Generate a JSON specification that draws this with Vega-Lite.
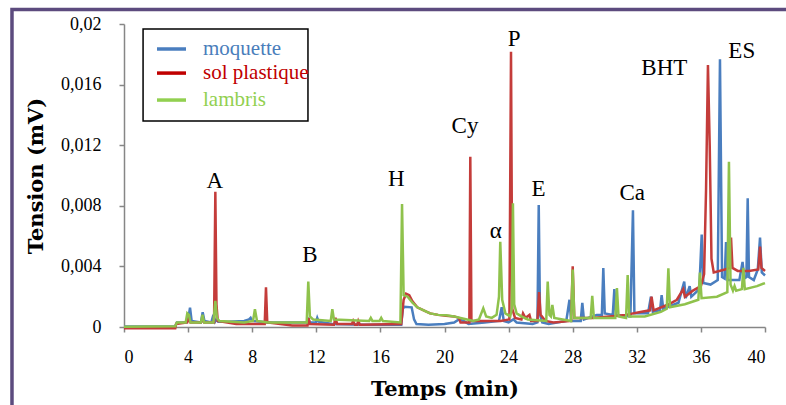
{
  "$schema": "https://vega.github.io/schema/vega-lite/v6.json",
  "width": 641,
  "height": 303,
  "autosize": {"type": "none"},
  "padding": {"left": 124, "top": 24, "right": 21, "bottom": 78},
  "background": "white",
  "config": {"view": {"stroke": null}},
  "datasets": {
    "chroma": [
      {"serie":"moquette","temps":0,"tension":0.00003},
      {"serie":"moquette","temps":3.2,"tension":0.00005},
      {"serie":"moquette","temps":3.3,"tension":0.0003},
      {"serie":"moquette","temps":3.9,"tension":0.0003},
      {"serie":"moquette","temps":4.02,"tension":0.0006},
      {"serie":"moquette","temps":4.12,"tension":0.00128},
      {"serie":"moquette","temps":4.22,"tension":0.0004},
      {"serie":"moquette","temps":4.8,"tension":0.0003},
      {"serie":"moquette","temps":4.91,"tension":0.00097},
      {"serie":"moquette","temps":5.02,"tension":0.0004},
      {"serie":"moquette","temps":5.45,"tension":0.0003},
      {"serie":"moquette","temps":5.58,"tension":0.0008},
      {"serie":"moquette","temps":5.68,"tension":0.00035},
      {"serie":"moquette","temps":5.78,"tension":0.0005},
      {"serie":"moquette","temps":5.88,"tension":0.00035},
      {"serie":"moquette","temps":6.5,"tension":0.00035},
      {"serie":"moquette","temps":7.5,"tension":0.0004},
      {"serie":"moquette","temps":7.8,"tension":0.0005},
      {"serie":"moquette","temps":7.9,"tension":0.0006},
      {"serie":"moquette","temps":8.0,"tension":0.0004},
      {"serie":"moquette","temps":9.0,"tension":0.0003},
      {"serie":"moquette","temps":11.4,"tension":0.0003},
      {"serie":"moquette","temps":11.5,"tension":0.0005},
      {"serie":"moquette","temps":11.6,"tension":0.0003},
      {"serie":"moquette","temps":11.98,"tension":0.0003},
      {"serie":"moquette","temps":12.06,"tension":0.0006},
      {"serie":"moquette","temps":12.15,"tension":0.00035},
      {"serie":"moquette","temps":13,"tension":0.0002},
      {"serie":"moquette","temps":15,"tension":0.00015},
      {"serie":"moquette","temps":17.3,"tension":0.00015},
      {"serie":"moquette","temps":17.4,"tension":0.0012},
      {"serie":"moquette","temps":17.5,"tension":0.00134},
      {"serie":"moquette","temps":17.95,"tension":0.0013},
      {"serie":"moquette","temps":18.1,"tension":0.0005},
      {"serie":"moquette","temps":18.25,"tension":0.0002},
      {"serie":"moquette","temps":19,"tension":0.00015},
      {"serie":"moquette","temps":20,"tension":0.0002},
      {"serie":"moquette","temps":20.6,"tension":0.0003},
      {"serie":"moquette","temps":20.9,"tension":0.0005},
      {"serie":"moquette","temps":21.2,"tension":0.0004},
      {"serie":"moquette","temps":21.5,"tension":0.0002},
      {"serie":"moquette","temps":22.5,"tension":0.0003},
      {"serie":"moquette","temps":23.4,"tension":0.0004},
      {"serie":"moquette","temps":23.57,"tension":0.0013},
      {"serie":"moquette","temps":23.7,"tension":0.0004},
      {"serie":"moquette","temps":24.0,"tension":0.0003},
      {"serie":"moquette","temps":24.3,"tension":0.0005},
      {"serie":"moquette","temps":24.5,"tension":0.0003},
      {"serie":"moquette","temps":25.5,"tension":0.0002},
      {"serie":"moquette","temps":25.8,"tension":0.0003},
      {"serie":"moquette","temps":25.88,"tension":0.00805},
      {"serie":"moquette","temps":25.96,"tension":0.0008},
      {"serie":"moquette","temps":26.1,"tension":0.0003},
      {"serie":"moquette","temps":26.5,"tension":0.0002},
      {"serie":"moquette","temps":27.6,"tension":0.0004},
      {"serie":"moquette","temps":27.8,"tension":0.0018},
      {"serie":"moquette","temps":27.9,"tension":0.0004},
      {"serie":"moquette","temps":28.5,"tension":0.0004},
      {"serie":"moquette","temps":28.6,"tension":0.0016},
      {"serie":"moquette","temps":28.7,"tension":0.0005},
      {"serie":"moquette","temps":29.5,"tension":0.0008},
      {"serie":"moquette","temps":29.82,"tension":0.0008},
      {"serie":"moquette","temps":29.91,"tension":0.0039},
      {"serie":"moquette","temps":30.0,"tension":0.0009},
      {"serie":"moquette","temps":30.5,"tension":0.0008},
      {"serie":"moquette","temps":30.6,"tension":0.0025},
      {"serie":"moquette","temps":30.7,"tension":0.0008},
      {"serie":"moquette","temps":31.6,"tension":0.0007},
      {"serie":"moquette","temps":31.76,"tension":0.0077},
      {"serie":"moquette","temps":31.85,"tension":0.0009},
      {"serie":"moquette","temps":32.7,"tension":0.0009},
      {"serie":"moquette","temps":32.88,"tension":0.002},
      {"serie":"moquette","temps":33.0,"tension":0.001},
      {"serie":"moquette","temps":33.45,"tension":0.0011},
      {"serie":"moquette","temps":33.55,"tension":0.0021},
      {"serie":"moquette","temps":33.65,"tension":0.0012},
      {"serie":"moquette","temps":34.6,"tension":0.0016},
      {"serie":"moquette","temps":34.96,"tension":0.003},
      {"serie":"moquette","temps":35.05,"tension":0.0019},
      {"serie":"moquette","temps":35.3,"tension":0.0027},
      {"serie":"moquette","temps":35.4,"tension":0.002},
      {"serie":"moquette","temps":35.9,"tension":0.0025},
      {"serie":"moquette","temps":36.05,"tension":0.0061},
      {"serie":"moquette","temps":36.15,"tension":0.0029},
      {"serie":"moquette","temps":36.6,"tension":0.0028},
      {"serie":"moquette","temps":37.05,"tension":0.0031},
      {"serie":"moquette","temps":37.19,"tension":0.01767},
      {"serie":"moquette","temps":37.32,"tension":0.0033},
      {"serie":"moquette","temps":37.48,"tension":0.0032},
      {"serie":"moquette","temps":37.57,"tension":0.0056},
      {"serie":"moquette","temps":37.66,"tension":0.0031},
      {"serie":"moquette","temps":38.4,"tension":0.0031},
      {"serie":"moquette","temps":38.6,"tension":0.0043},
      {"serie":"moquette","temps":38.7,"tension":0.0032},
      {"serie":"moquette","temps":38.84,"tension":0.0033},
      {"serie":"moquette","temps":38.92,"tension":0.0085},
      {"serie":"moquette","temps":39.0,"tension":0.0033},
      {"serie":"moquette","temps":39.3,"tension":0.0031},
      {"serie":"moquette","temps":39.55,"tension":0.0038},
      {"serie":"moquette","temps":39.69,"tension":0.0059},
      {"serie":"moquette","temps":39.8,"tension":0.0036},
      {"serie":"moquette","temps":40,"tension":0.0034},

      {"serie":"sol plastique","temps":0,"tension":-0.00008},
      {"serie":"sol plastique","temps":3.2,"tension":-0.00008},
      {"serie":"sol plastique","temps":3.25,"tension":0.0002},
      {"serie":"sol plastique","temps":3.95,"tension":0.0003},
      {"serie":"sol plastique","temps":4.05,"tension":0.0006},
      {"serie":"sol plastique","temps":4.15,"tension":0.0003},
      {"serie":"sol plastique","temps":4.8,"tension":0.0003},
      {"serie":"sol plastique","temps":4.9,"tension":0.0005},
      {"serie":"sol plastique","temps":5.0,"tension":0.0003},
      {"serie":"sol plastique","temps":5.62,"tension":0.0003},
      {"serie":"sol plastique","temps":5.70,"tension":0.00893},
      {"serie":"sol plastique","temps":5.77,"tension":0.0015},
      {"serie":"sol plastique","temps":5.85,"tension":0.0004},
      {"serie":"sol plastique","temps":7,"tension":0.0002},
      {"serie":"sol plastique","temps":8.78,"tension":0.0002},
      {"serie":"sol plastique","temps":8.86,"tension":0.00262},
      {"serie":"sol plastique","temps":8.94,"tension":0.0003},
      {"serie":"sol plastique","temps":10.5,"tension":0.0001},
      {"serie":"sol plastique","temps":11.45,"tension":0.0001},
      {"serie":"sol plastique","temps":11.52,"tension":0.0006},
      {"serie":"sol plastique","temps":11.6,"tension":0.0002},
      {"serie":"sol plastique","temps":13.1,"tension":0.00015},
      {"serie":"sol plastique","temps":13.2,"tension":0.0006},
      {"serie":"sol plastique","temps":13.3,"tension":0.0002},
      {"serie":"sol plastique","temps":14.22,"tension":0.0002},
      {"serie":"sol plastique","temps":14.3,"tension":0.0004},
      {"serie":"sol plastique","temps":14.4,"tension":0.00015},
      {"serie":"sol plastique","temps":14.55,"tension":0.00015},
      {"serie":"sol plastique","temps":14.62,"tension":0.0004},
      {"serie":"sol plastique","temps":14.72,"tension":0.00015},
      {"serie":"sol plastique","temps":17.3,"tension":0.0002},
      {"serie":"sol plastique","temps":17.45,"tension":0.0018},
      {"serie":"sol plastique","temps":17.6,"tension":0.0022},
      {"serie":"sol plastique","temps":17.8,"tension":0.0021},
      {"serie":"sol plastique","temps":18.0,"tension":0.0017},
      {"serie":"sol plastique","temps":18.3,"tension":0.0013},
      {"serie":"sol plastique","temps":18.7,"tension":0.0011},
      {"serie":"sol plastique","temps":19.1,"tension":0.0009},
      {"serie":"sol plastique","temps":19.6,"tension":0.0008},
      {"serie":"sol plastique","temps":20.1,"tension":0.00075},
      {"serie":"sol plastique","temps":20.6,"tension":0.0007},
      {"serie":"sol plastique","temps":20.9,"tension":0.0006},
      {"serie":"sol plastique","temps":21.0,"tension":0.0003},
      {"serie":"sol plastique","temps":21.55,"tension":0.0003},
      {"serie":"sol plastique","temps":21.61,"tension":0.01124},
      {"serie":"sol plastique","temps":21.68,"tension":0.0004},
      {"serie":"sol plastique","temps":23.5,"tension":0.0004},
      {"serie":"sol plastique","temps":24.05,"tension":0.0005},
      {"serie":"sol plastique","temps":24.15,"tension":0.01817},
      {"serie":"sol plastique","temps":24.23,"tension":0.0012},
      {"serie":"sol plastique","temps":24.4,"tension":0.0006},
      {"serie":"sol plastique","temps":24.8,"tension":0.0005},
      {"serie":"sol plastique","temps":24.9,"tension":0.0009},
      {"serie":"sol plastique","temps":25.05,"tension":0.0006},
      {"serie":"sol plastique","temps":25.3,"tension":0.0008},
      {"serie":"sol plastique","temps":25.4,"tension":0.0004},
      {"serie":"sol plastique","temps":25.8,"tension":0.0004},
      {"serie":"sol plastique","temps":25.9,"tension":0.0023},
      {"serie":"sol plastique","temps":26.0,"tension":0.0008},
      {"serie":"sol plastique","temps":26.3,"tension":0.0004},
      {"serie":"sol plastique","temps":26.8,"tension":0.0003},
      {"serie":"sol plastique","temps":27.9,"tension":0.0004},
      {"serie":"sol plastique","temps":28.0,"tension":0.004},
      {"serie":"sol plastique","temps":28.1,"tension":0.0006},
      {"serie":"sol plastique","temps":29.2,"tension":0.0006},
      {"serie":"sol plastique","temps":30.3,"tension":0.0007},
      {"serie":"sol plastique","temps":31.3,"tension":0.0008},
      {"serie":"sol plastique","temps":32.3,"tension":0.001},
      {"serie":"sol plastique","temps":32.82,"tension":0.0011},
      {"serie":"sol plastique","temps":32.92,"tension":0.002},
      {"serie":"sol plastique","temps":33.05,"tension":0.0011},
      {"serie":"sol plastique","temps":34.0,"tension":0.0015},
      {"serie":"sol plastique","temps":34.5,"tension":0.0018},
      {"serie":"sol plastique","temps":34.9,"tension":0.0025},
      {"serie":"sol plastique","temps":35.0,"tension":0.002},
      {"serie":"sol plastique","temps":35.5,"tension":0.0024},
      {"serie":"sol plastique","temps":36.0,"tension":0.0027},
      {"serie":"sol plastique","temps":36.2,"tension":0.0035},
      {"serie":"sol plastique","temps":36.32,"tension":0.009},
      {"serie":"sol plastique","temps":36.44,"tension":0.01729},
      {"serie":"sol plastique","temps":36.55,"tension":0.012},
      {"serie":"sol plastique","temps":36.66,"tension":0.0045},
      {"serie":"sol plastique","temps":36.8,"tension":0.0036},
      {"serie":"sol plastique","temps":37.5,"tension":0.0038},
      {"serie":"sol plastique","temps":37.8,"tension":0.0039},
      {"serie":"sol plastique","temps":37.88,"tension":0.0059},
      {"serie":"sol plastique","temps":37.97,"tension":0.0039},
      {"serie":"sol plastique","temps":38.3,"tension":0.0037},
      {"serie":"sol plastique","temps":39.0,"tension":0.0037},
      {"serie":"sol plastique","temps":39.58,"tension":0.0038},
      {"serie":"sol plastique","temps":39.69,"tension":0.0053},
      {"serie":"sol plastique","temps":39.78,"tension":0.0039},
      {"serie":"sol plastique","temps":40,"tension":0.0037},

      {"serie":"lambris","temps":0,"tension":0.00002},
      {"serie":"lambris","temps":3.2,"tension":0.00005},
      {"serie":"lambris","temps":3.3,"tension":0.0003},
      {"serie":"lambris","temps":3.85,"tension":0.0003},
      {"serie":"lambris","temps":3.95,"tension":0.0009},
      {"serie":"lambris","temps":4.05,"tension":0.0008},
      {"serie":"lambris","temps":4.15,"tension":0.0003},
      {"serie":"lambris","temps":4.8,"tension":0.0003},
      {"serie":"lambris","temps":4.9,"tension":0.0008},
      {"serie":"lambris","temps":5.0,"tension":0.0003},
      {"serie":"lambris","temps":5.58,"tension":0.0003},
      {"serie":"lambris","temps":5.70,"tension":0.00172},
      {"serie":"lambris","temps":5.8,"tension":0.0006},
      {"serie":"lambris","temps":5.95,"tension":0.0004},
      {"serie":"lambris","temps":7.5,"tension":0.0003},
      {"serie":"lambris","temps":8.05,"tension":0.0004},
      {"serie":"lambris","temps":8.17,"tension":0.00117},
      {"serie":"lambris","temps":8.3,"tension":0.0004},
      {"serie":"lambris","temps":9,"tension":0.0003},
      {"serie":"lambris","temps":11.4,"tension":0.0003},
      {"serie":"lambris","temps":11.5,"tension":0.003},
      {"serie":"lambris","temps":11.6,"tension":0.0007},
      {"serie":"lambris","temps":11.8,"tension":0.0005},
      {"serie":"lambris","temps":12.9,"tension":0.0004},
      {"serie":"lambris","temps":13.0,"tension":0.00117},
      {"serie":"lambris","temps":13.1,"tension":0.0005},
      {"serie":"lambris","temps":15.3,"tension":0.0004},
      {"serie":"lambris","temps":15.4,"tension":0.0006},
      {"serie":"lambris","temps":15.5,"tension":0.0004},
      {"serie":"lambris","temps":15.95,"tension":0.0004},
      {"serie":"lambris","temps":16.05,"tension":0.0006},
      {"serie":"lambris","temps":16.15,"tension":0.0004},
      {"serie":"lambris","temps":17.25,"tension":0.0003},
      {"serie":"lambris","temps":17.35,"tension":0.00812},
      {"serie":"lambris","temps":17.45,"tension":0.0021},
      {"serie":"lambris","temps":17.7,"tension":0.002},
      {"serie":"lambris","temps":18.0,"tension":0.0016},
      {"serie":"lambris","temps":18.3,"tension":0.0013},
      {"serie":"lambris","temps":18.7,"tension":0.0011},
      {"serie":"lambris","temps":19.1,"tension":0.0009},
      {"serie":"lambris","temps":19.6,"tension":0.0008},
      {"serie":"lambris","temps":20.1,"tension":0.00077},
      {"serie":"lambris","temps":20.6,"tension":0.0007},
      {"serie":"lambris","temps":21.0,"tension":0.0006},
      {"serie":"lambris","temps":21.4,"tension":0.0005},
      {"serie":"lambris","temps":21.8,"tension":0.0004},
      {"serie":"lambris","temps":22.15,"tension":0.0005},
      {"serie":"lambris","temps":22.42,"tension":0.00123},
      {"serie":"lambris","temps":22.6,"tension":0.0007},
      {"serie":"lambris","temps":22.95,"tension":0.0006},
      {"serie":"lambris","temps":23.25,"tension":0.0008},
      {"serie":"lambris","temps":23.4,"tension":0.002},
      {"serie":"lambris","temps":23.48,"tension":0.00563},
      {"serie":"lambris","temps":23.6,"tension":0.0018},
      {"serie":"lambris","temps":23.8,"tension":0.0009},
      {"serie":"lambris","temps":24.1,"tension":0.0007},
      {"serie":"lambris","temps":24.2,"tension":0.0012},
      {"serie":"lambris","temps":24.27,"tension":0.00816},
      {"serie":"lambris","temps":24.35,"tension":0.0015},
      {"serie":"lambris","temps":24.5,"tension":0.0009},
      {"serie":"lambris","temps":24.8,"tension":0.0007},
      {"serie":"lambris","temps":25.2,"tension":0.0005},
      {"serie":"lambris","temps":26.35,"tension":0.0004},
      {"serie":"lambris","temps":26.44,"tension":0.003},
      {"serie":"lambris","temps":26.55,"tension":0.0008},
      {"serie":"lambris","temps":26.64,"tension":0.0007},
      {"serie":"lambris","temps":26.73,"tension":0.00145},
      {"serie":"lambris","temps":26.85,"tension":0.0006},
      {"serie":"lambris","temps":27.9,"tension":0.0004},
      {"serie":"lambris","temps":28.0,"tension":0.0038},
      {"serie":"lambris","temps":28.1,"tension":0.0006},
      {"serie":"lambris","temps":29.12,"tension":0.0006},
      {"serie":"lambris","temps":29.22,"tension":0.00205},
      {"serie":"lambris","temps":29.32,"tension":0.0006},
      {"serie":"lambris","temps":30.66,"tension":0.0006},
      {"serie":"lambris","temps":30.76,"tension":0.00257},
      {"serie":"lambris","temps":30.86,"tension":0.0007},
      {"serie":"lambris","temps":31.33,"tension":0.0006},
      {"serie":"lambris","temps":31.43,"tension":0.00343},
      {"serie":"lambris","temps":31.53,"tension":0.0007},
      {"serie":"lambris","temps":32.5,"tension":0.0007},
      {"serie":"lambris","temps":33.5,"tension":0.001},
      {"serie":"lambris","temps":33.87,"tension":0.0012},
      {"serie":"lambris","temps":33.97,"tension":0.00387},
      {"serie":"lambris","temps":34.07,"tension":0.0013},
      {"serie":"lambris","temps":35.0,"tension":0.0015},
      {"serie":"lambris","temps":35.84,"tension":0.0018},
      {"serie":"lambris","temps":35.94,"tension":0.0036},
      {"serie":"lambris","temps":36.04,"tension":0.0019},
      {"serie":"lambris","temps":37.0,"tension":0.002},
      {"serie":"lambris","temps":37.65,"tension":0.0023},
      {"serie":"lambris","temps":37.75,"tension":0.01091},
      {"serie":"lambris","temps":37.85,"tension":0.0028},
      {"serie":"lambris","temps":38.0,"tension":0.0024},
      {"serie":"lambris","temps":38.1,"tension":0.0027},
      {"serie":"lambris","temps":38.2,"tension":0.0024},
      {"serie":"lambris","temps":38.56,"tension":0.0025},
      {"serie":"lambris","temps":38.65,"tension":0.0039},
      {"serie":"lambris","temps":38.74,"tension":0.0025},
      {"serie":"lambris","temps":39.5,"tension":0.0027},
      {"serie":"lambris","temps":40,"tension":0.0029}
    ]
  },
  "layer": [
    {
      "data": {"values": [{}]},
      "mark": {"type": "rect", "fill": null, "stroke": "#5c4b7e", "strokeWidth": 3.5, "clip": false},
      "encoding": {
        "x": {"datum": -6.99, "type": "quantitative", "scale": {"domain": [0, 40], "nice": false, "zero": false}},
        "x2": {"datum": 43},
        "y": {"datum": 0.02096, "type": "quantitative", "scale": {"domain": [0, 0.02], "nice": false}},
        "y2": {"datum": -0.008}
      }
    },
    {
      "data": {"name": "chroma"},
      "transform": [{"filter": "datum.serie === 'moquette'"}],
      "mark": {"type": "line", "color": "#4a7ebf", "strokeWidth": 2.5, "clip": false},
      "encoding": {
        "x": {"field": "temps", "type": "quantitative", "axis": {"values": [0,4,8,12,16,20,24,28,32,36,40], "title": "Temps (min)", "grid": false, "domainColor": "#868686", "domainWidth": 1.5, "tickColor": "#868686", "tickWidth": 1.5, "tickSize": 5, "labelFont": "Liberation Serif, serif", "labelFontSize": 18, "labelColor": "#000", "labelPadding": 16, "titleFont": "DejaVu Serif, serif", "titleFontWeight": "bold", "titleFontSize": 21, "titleColor": "#000", "titlePadding": 12}},
        "y": {"field": "tension", "type": "quantitative", "axis": {"values": [0,0.004,0.008,0.012,0.016,0.02], "labelExpr": "replace(toString(datum.value), '.', ',')", "title": "Tension (mV)", "grid": false, "domainColor": "#868686", "domainWidth": 1.5, "tickColor": "#868686", "tickWidth": 1.5, "tickSize": 5, "labelFont": "Liberation Serif, serif", "labelFontSize": 18, "labelColor": "#000", "labelPadding": 18, "titleFont": "DejaVu Serif, serif", "titleFontWeight": "bold", "titleFontSize": 21, "titleColor": "#000", "titlePadding": 14}},
        "order": {"field": "temps", "type": "quantitative"}
      }
    },
    {
      "data": {"name": "chroma"},
      "transform": [{"filter": "datum.serie === 'sol plastique'"}],
      "mark": {"type": "line", "color": "#c43c3a", "strokeWidth": 2.5, "clip": false},
      "encoding": {
        "x": {"field": "temps", "type": "quantitative"},
        "y": {"field": "tension", "type": "quantitative"},
        "order": {"field": "temps", "type": "quantitative"}
      }
    },
    {
      "data": {"name": "chroma"},
      "transform": [{"filter": "datum.serie === 'lambris'"}],
      "mark": {"type": "line", "color": "#8fc24c", "strokeWidth": 2.5, "clip": false},
      "encoding": {
        "x": {"field": "temps", "type": "quantitative"},
        "y": {"field": "tension", "type": "quantitative"},
        "order": {"field": "temps", "type": "quantitative"}
      }
    },
    {
      "data": {"values": [
        {"pic": "A", "temps": 5.66, "tension": 0.00917},
        {"pic": "B", "temps": 11.6, "tension": 0.00429},
        {"pic": "H", "temps": 17.0, "tension": 0.0093},
        {"pic": "Cy", "temps": 21.28, "tension": 0.01278},
        {"pic": "α", "temps": 23.2, "tension": 0.00587},
        {"pic": "P", "temps": 24.34, "tension": 0.01855},
        {"pic": "E", "temps": 25.86, "tension": 0.00865},
        {"pic": "Ca", "temps": 31.72, "tension": 0.00838},
        {"pic": "BHT", "temps": 33.72, "tension": 0.01663},
        {"pic": "ES", "temps": 38.55, "tension": 0.01776}
      ]},
      "mark": {"type": "text", "font": "Liberation Serif, serif", "fontSize": 23, "color": "#000", "align": "center", "baseline": "alphabetic"},
      "encoding": {
        "x": {"field": "temps", "type": "quantitative"},
        "y": {"field": "tension", "type": "quantitative"},
        "text": {"field": "pic"}
      }
    },
    {
      "data": {"values": [{}]},
      "mark": {"type": "rect", "fill": "white", "stroke": "#000", "strokeWidth": 1.5},
      "encoding": {
        "x": {"datum": 1.19, "type": "quantitative"},
        "x2": {"datum": 11.48},
        "y": {"datum": 0.01967, "type": "quantitative"},
        "y2": {"datum": 0.0136}
      }
    },
    {
      "data": {"values": [{}]},
      "mark": {"type": "rule", "color": "#4a7ebf", "strokeWidth": 3.5},
      "encoding": {"x": {"datum": 2.06, "type": "quantitative"}, "x2": {"datum": 3.87}, "y": {"datum": 0.01835, "type": "quantitative"}}
    },
    {
      "data": {"values": [{}]},
      "mark": {"type": "rule", "color": "#c00000", "strokeWidth": 3.5},
      "encoding": {"x": {"datum": 2.06, "type": "quantitative"}, "x2": {"datum": 3.87}, "y": {"datum": 0.01676, "type": "quantitative"}}
    },
    {
      "data": {"values": [{}]},
      "mark": {"type": "rule", "color": "#92d050", "strokeWidth": 3.5},
      "encoding": {"x": {"datum": 2.06, "type": "quantitative"}, "x2": {"datum": 3.87}, "y": {"datum": 0.01498, "type": "quantitative"}}
    },
    {
      "data": {"values": [{"label": "moquette"}]},
      "mark": {"type": "text", "font": "Liberation Serif, serif", "fontSize": 21, "color": "#4a7ebb", "align": "left", "baseline": "middle"},
      "encoding": {"x": {"datum": 4.93, "type": "quantitative"}, "y": {"datum": 0.01835, "type": "quantitative"}, "text": {"field": "label"}}
    },
    {
      "data": {"values": [{"label": "sol plastique"}]},
      "mark": {"type": "text", "font": "Liberation Serif, serif", "fontSize": 21, "color": "#c00000", "align": "left", "baseline": "middle"},
      "encoding": {"x": {"datum": 4.93, "type": "quantitative"}, "y": {"datum": 0.01676, "type": "quantitative"}, "text": {"field": "label"}}
    },
    {
      "data": {"values": [{"label": "lambris"}]},
      "mark": {"type": "text", "font": "Liberation Serif, serif", "fontSize": 21, "color": "#92d050", "align": "left", "baseline": "middle"},
      "encoding": {"x": {"datum": 4.93, "type": "quantitative"}, "y": {"datum": 0.01498, "type": "quantitative"}, "text": {"field": "label"}}
    }
  ]
}
